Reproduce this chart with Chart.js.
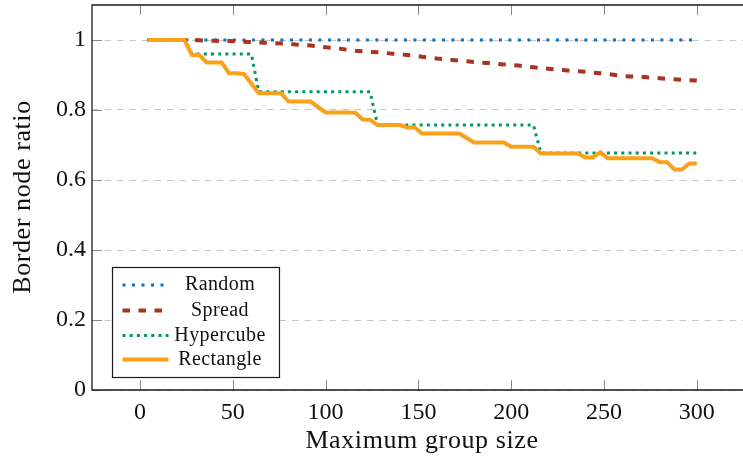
<!DOCTYPE html>
<html>
<head>
<meta charset="utf-8">
<script src="https://cdn.jsdelivr.net/npm/chart.js@4.4.0/dist/chart.umd.min.js"></script>
<style>
  html, body { margin: 0; padding: 0; background: #fff; overflow: hidden; }
  #wrap { width: 743px; height: 461px; position: relative; }
</style>
</head>
<body>
<div id="wrap"><canvas id="c" width="743" height="461"></canvas></div>
<script>
// Maximum group size (x values shared by every series)
const groupSizes = [
  4, 8, 12, 16, 20, 24, 28, 32, 36, 40, 44, 48, 52, 56, 60, 64, 68, 72, 76, 80,
  84, 88, 92, 96, 100, 104, 108, 112, 116, 120, 124, 128, 132, 136, 140, 144, 148, 152, 156, 160,
  164, 168, 172, 176, 180, 184, 188, 192, 196, 200, 204, 208, 212, 216, 220, 224, 228, 232, 236, 240,
  244, 248, 252, 256, 260, 264, 268, 272, 276, 280, 284, 288, 292, 296, 300
];

// Border node ratio per strategy
const randomRatio = [
  1, 1, 1, 1, 1, 1, 1, 1, 1, 1, 1, 1, 1, 1, 1, 1, 1, 1, 1, 1,
  1, 1, 1, 1, 1, 1, 1, 1, 1, 1, 1, 1, 1, 1, 1, 1, 1, 1, 1, 1,
  1, 1, 1, 1, 1, 1, 1, 1, 1, 1, 1, 1, 1, 1, 1, 1, 1, 1, 1, 1,
  1, 1, 1, 1, 1, 1, 1, 1, 1, 1, 1, 1, 1, 1, 1
];

const spreadRatio = [
  1, 1, 1, 1, 1, 1, 0.999, 0.999, 0.998, 0.998, 0.997, 0.997, 0.996, 0.995, 0.994, 0.993, 0.992, 0.991, 0.99, 0.989,
  0.987, 0.986, 0.984, 0.982, 0.979, 0.977, 0.975, 0.972, 0.969, 0.968, 0.966, 0.965, 0.963, 0.961, 0.959, 0.957, 0.955, 0.952, 0.95, 0.947,
  0.945, 0.943, 0.941, 0.939, 0.937, 0.935, 0.934, 0.932, 0.93, 0.929, 0.927, 0.924, 0.922, 0.92, 0.918, 0.916, 0.914, 0.912, 0.911, 0.909,
  0.907, 0.905, 0.903, 0.9, 0.897, 0.896, 0.895, 0.894, 0.892, 0.891, 0.889, 0.888, 0.886, 0.885, 0.884
];

const hypercubeRatio = [
  1, 1, 1, 1, 1, 1, 0.96, 0.96, 0.96, 0.96, 0.96, 0.96, 0.96, 0.96, 0.96, 0.852, 0.852, 0.852, 0.852, 0.852,
  0.852, 0.852, 0.852, 0.852, 0.852, 0.852, 0.852, 0.852, 0.852, 0.852, 0.852, 0.757, 0.757, 0.757, 0.757, 0.757, 0.757, 0.757, 0.757, 0.757,
  0.757, 0.757, 0.757, 0.757, 0.757, 0.757, 0.757, 0.757, 0.757, 0.757, 0.757, 0.757, 0.757, 0.677, 0.677, 0.677, 0.677, 0.677, 0.677, 0.677,
  0.677, 0.677, 0.677, 0.677, 0.677, 0.677, 0.677, 0.677, 0.677, 0.677, 0.677, 0.677, 0.677, 0.677, 0.677
];

const rectangleRatio = [
  1, 1, 1, 1, 1, 1, 0.957, 0.957, 0.936, 0.936, 0.936, 0.905, 0.905, 0.903, 0.876, 0.848, 0.848, 0.848, 0.848, 0.824,
  0.824, 0.824, 0.824, 0.808, 0.793, 0.793, 0.793, 0.793, 0.792, 0.773, 0.772, 0.757, 0.757, 0.757, 0.757, 0.75, 0.75, 0.733, 0.733, 0.733,
  0.733, 0.733, 0.733, 0.72, 0.707, 0.707, 0.707, 0.707, 0.707, 0.695, 0.695, 0.695, 0.695, 0.676, 0.676, 0.676, 0.676, 0.676, 0.676, 0.664,
  0.664, 0.679, 0.662, 0.662, 0.662, 0.662, 0.662, 0.662, 0.662, 0.651, 0.651, 0.63, 0.63, 0.647, 0.647
];

const xTickValues = [0, 50, 100, 150, 200, 250, 300];
const yTickValues = [0, 0.2, 0.4, 0.6, 0.8, 1];

const xTitle = 'Maximum group size';
const yTitle = 'Border node ratio';

const SERIF = '"Liberation Serif", "DejaVu Serif", serif';

const toPoints = ys => groupSizes.map((x, i) => ({ x: x, y: ys[i] }));

// Axis frame, inward tick marks and axis titles
const framePlugin = {
  id: 'frame',
  afterDatasetsDraw(chart) {
    const { ctx, chartArea: a, scales: { x, y } } = chart;
    ctx.save();
    ctx.strokeStyle = '#8a8a8a';
    ctx.lineWidth = 1;
    const tl = 10;
    xTickValues.forEach(v => {
      const px = Math.round(x.getPixelForValue(v)) + 0.5;
      ctx.beginPath();
      ctx.moveTo(px, a.bottom); ctx.lineTo(px, a.bottom - tl);
      ctx.moveTo(px, a.top); ctx.lineTo(px, a.top + tl);
      ctx.stroke();
    });
    yTickValues.forEach(v => {
      const py = Math.round(y.getPixelForValue(v)) + 0.5;
      ctx.beginPath();
      ctx.moveTo(a.left, py); ctx.lineTo(a.left + tl, py);
      ctx.stroke();
    });
    ctx.strokeStyle = '#1a1a1a';
    ctx.lineWidth = 1.3;
    ctx.beginPath();
    ctx.moveTo(a.right + 2, a.top);
    ctx.lineTo(a.left, a.top);
    ctx.lineTo(a.left, a.bottom);
    ctx.lineTo(a.right + 2, a.bottom);
    ctx.stroke();

    ctx.fillStyle = '#111';
    ctx.font = '26px ' + SERIF;
    ctx.textAlign = 'center';
    ctx.textBaseline = 'middle';
    ctx.letterSpacing = '0.6px';
    ctx.fillText(xTitle, 422, 441);
    ctx.translate(23, 197);
    ctx.rotate(-Math.PI / 2);
    ctx.fillText(yTitle, 0, 0);
    ctx.restore();
  }
};

// Boxed legend inside the plot, lower left
const legendPlugin = {
  id: 'boxLegend',
  afterDraw(chart) {
    const { ctx } = chart;
    const box = { x: 112.5, y: 267.5, w: 167, h: 110 };
    const rows = [285, 310.5, 335.5, 359.5];
    ctx.save();
    ctx.fillStyle = '#fff';
    ctx.fillRect(box.x, box.y, box.w, box.h);
    ctx.strokeStyle = '#1a1a1a';
    ctx.lineWidth = 1.2;
    ctx.strokeRect(box.x, box.y, box.w, box.h);
    chart.data.datasets.forEach((ds, i) => {
      const yy = rows[i];
      ctx.beginPath();
      ctx.strokeStyle = ds.borderColor;
      ctx.lineWidth = ds.borderWidth;
      ctx.setLineDash(ds.borderDash || []);
      ctx.lineCap = 'butt';
      ctx.moveTo(122.5, yy);
      ctx.lineTo(168.5, yy);
      ctx.stroke();
      ctx.setLineDash([]);
      ctx.fillStyle = '#111';
      ctx.font = '20px ' + SERIF;
      ctx.letterSpacing = '0.4px';
      ctx.textAlign = 'center';
      ctx.textBaseline = 'middle';
      ctx.fillText(ds.label, 220, yy);
    });
    ctx.restore();
  }
};

new Chart(document.getElementById('c'), {
  type: 'line',
  data: {
    datasets: [
      { label: 'Random', data: toPoints(randomRatio), borderColor: '#0a72bf', borderWidth: 3, borderDash: [3, 6.5], order: 3 },
      { label: 'Spread', data: toPoints(spreadRatio), borderColor: '#a8331f', borderWidth: 4, borderDash: [7.5, 8.5], order: 2 },
      { label: 'Hypercube', data: toPoints(hypercubeRatio), borderColor: '#009a58', borderWidth: 3, borderDash: [3, 4.2], order: 1 },
      { label: 'Rectangle', data: toPoints(rectangleRatio), borderColor: '#f9a11b', borderWidth: 4, order: 0 }
    ]
  },
  options: {
    responsive: false,
    animation: false,
    devicePixelRatio: 1,
    layout: { padding: { top: 5, left: 0, right: 0, bottom: 0 } },
    elements: { point: { radius: 0 }, line: { tension: 0, fill: false, borderCapStyle: 'butt' } },
    plugins: { legend: { display: false }, tooltip: { enabled: false } },
    scales: {
      x: {
        type: 'linear',
        min: -25.86,
        max: 324.9,
        afterBuildTicks: s => { s.ticks = xTickValues.map(v => ({ value: v })); },
        afterFit: s => { s.height = 71; s.paddingLeft = 0; s.paddingRight = 0; },
        grid: { display: false, drawTicks: false },
        border: { display: false },
        ticks: {
          font: { family: SERIF, size: 24 },
          color: '#111',
          padding: 8,
          maxRotation: 0,
          autoSkip: false,
          callback: v => String(v)
        }
      },
      y: {
        type: 'linear',
        min: 0,
        max: 1.1,
        afterBuildTicks: s => { s.ticks = yTickValues.map(v => ({ value: v })); },
        afterFit: s => { s.width = 92; s.paddingTop = 0; s.paddingBottom = 0; },
        grid: { color: '#c6c6c6', lineWidth: 1, drawTicks: false },
        border: { display: false, dash: [6.5, 6] },
        ticks: {
          font: { family: SERIF, size: 24 },
          color: '#111',
          padding: 6,
          autoSkip: false,
          callback: v => String(Math.round(v * 10) / 10)
        }
      }
    }
  },
  plugins: [framePlugin, legendPlugin]
});
</script>
</body>
</html>
